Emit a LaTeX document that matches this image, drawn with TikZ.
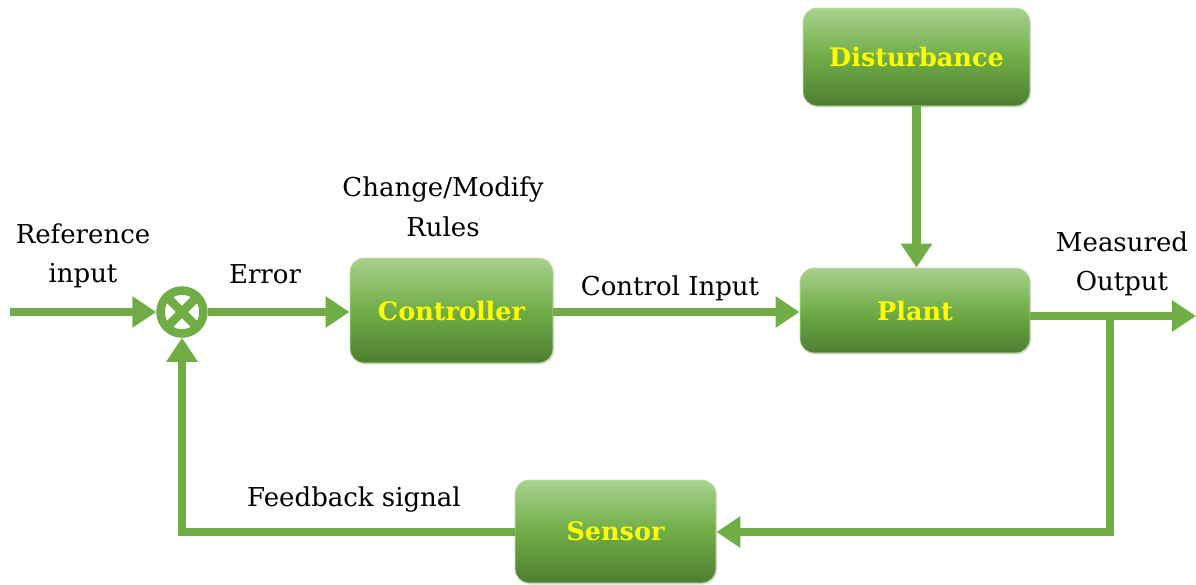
\documentclass[tikz,border=0pt]{standalone}
\usepackage{fontspec}
\setmainfont{DejaVu Serif}
\usetikzlibrary{arrows.meta,shadows,calc}
\definecolor{lineg}{HTML}{70AD47}
\definecolor{boxtop}{HTML}{A9D18E}
\definecolor{boxmid}{HTML}{70AD47}
\definecolor{boxbot}{HTML}{4E7E30}
\definecolor{labelyellow}{HTML}{FFFF00}
\tikzset{
  blockbox/.style={rectangle, rounded corners=14pt, draw=boxtop!70!white, line width=0.8pt,
    top color=boxtop, bottom color=boxbot, middle color=boxmid,
    font=\bfseries\fontsize{25.5}{28}\selectfont, text=labelyellow, inner sep=0pt,
    drop shadow={shadow xshift=1pt, shadow yshift=-1.5pt, opacity=0.25}},
  wire/.style={draw=lineg, line width=8.5pt},
  flow/.style={wire, -{Triangle[length=24pt,width=30pt]}},
  caption/.style={font=\fontsize{26}{39.5}\selectfont, align=center, text=black}
}
\begin{document}
\begin{tikzpicture}[x=1pt,y=-1pt]
\useasboundingbox (0,0) rectangle (1196,584);

% blocks
\node[blockbox, minimum width=203pt, minimum height=105pt] (ctrl) at (451.5,310.5) {\raisebox{-3pt}{Controller}};
\node[blockbox, minimum width=230pt, minimum height=85pt] (plant) at (915,310.5) {\raisebox{-2pt}{Plant}};
\node[blockbox, minimum width=227pt, minimum height=98pt] (dist) at (916.5,57) {\raisebox{-2pt}{Disturbance}};
\node[blockbox, minimum width=201pt, minimum height=103pt] (sens) at (615.5,531.5) {\raisebox{-2pt}{Sensor}};

% summing junction with its cross
\node[circle, draw=lineg, line width=8.5pt, minimum size=43pt, inner sep=0pt] (sum) at (182,312) {};
\draw[wire] ($(sum.center)+(-13,-13)$) -- ($(sum.center)+(13,13)$);
\draw[wire] ($(sum.center)+(-13,13)$) -- ($(sum.center)+(13,-13)$);

% free ends
\coordinate (refin) at (10,312);
\coordinate (outend) at (1196,316);
\coordinate (branch) at (1110,316);
\coordinate (turn) at (1110,532);
\coordinate (fbcorner) at (182,532);

% forward path
\draw[flow] (refin) -- (sum.west);
\draw[flow] (sum.east) -- (sum.east -| ctrl.west);
\draw[flow] (sum.east -| ctrl.east) -- (sum.east -| plant.west);
\draw[flow] (dist.south) -- (dist.south |- plant.north);
\draw[flow] (plant.east |- outend) -- (outend);

% feedback path
\draw[flow] (branch) -- (turn) -- (sens.east |- turn);
\draw[flow] (sens.west |- fbcorner) -- (fbcorner) -- (sum.south);

% labels
\node[caption] (lref) at (83,256) {Reference\\input};
\node[caption] (lerr) at (265,274) {Error};
\node[caption] (lrules) at (443,207) {Change/Modify\\Rules};
\node[caption] (lci) at (670,288) {Control Input};
\node[caption] (lmo) at (1122,264) {Measured\\Output};
\node[caption] (lfb) at (354,500) {Feedback signal};
\end{tikzpicture}
\end{document}
